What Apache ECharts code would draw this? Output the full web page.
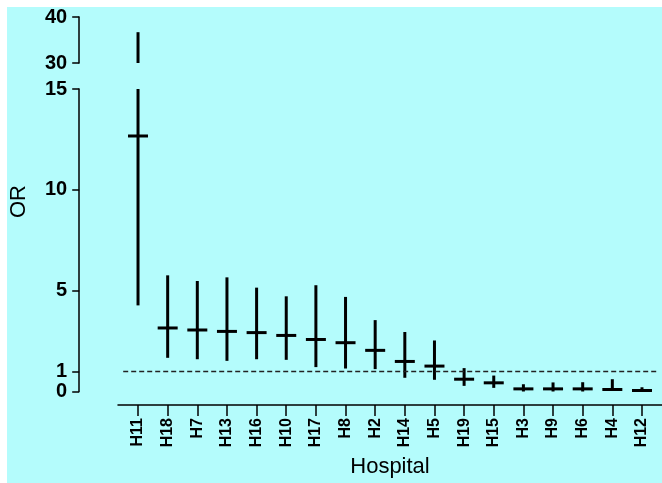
<!DOCTYPE html>
<html>
<head>
<meta charset="utf-8">
<script src="https://cdn.jsdelivr.net/npm/echarts@6/dist/echarts.min.js"></script>
<style>
html,body{margin:0;padding:0;background:#ffffff;}
#c{position:absolute;left:7px;top:7px;width:655px;height:476px;}
</style>
</head>
<body>
<div id="c"></div>
<script>
// ---- data ----
const categories = ['H11','H18','H7','H13','H16','H10','H17','H8','H2','H14','H5','H19','H15','H3','H9','H6','H4','H12'];
const orEst  = [12.67, 3.15, 3.05, 2.98, 2.92, 2.78, 2.58, 2.42, 2.04, 1.49, 1.26, 0.61, 0.43, 0.13, 0.13, 0.13, 0.10, 0.05];
const ciLow  = [4.27, 1.67, 1.60, 1.52, 1.60, 1.57, 1.21, 1.14, 1.11, 0.68, 0.58, 0.28, 0.18, 0.00, 0.00, 0.00, 0.05, 0.00];
const ciHigh = [36.7, 5.76, 5.48, 5.66, 5.15, 4.72, 5.27, 4.69, 3.54, 2.95, 2.53, 1.16, 0.79, 0.36, 0.45, 0.46, 0.61, 0.21];
const lowerTicks = [0, 1, 5, 10, 15];
const upperTicks = [30, 40];
const refLine = 1;

const rows = categories.map((c, i) => [i, orEst[i], ciLow[i], ciHigh[i]]);

function makeRender(lo, hi) {
  return function (params, api) {
    const x = api.value(0), est = api.value(1), l = api.value(2), h = api.value(3);
    const a = Math.max(l, lo), b = Math.min(h, hi);
    const children = [];
    if (b > a) {
      const p1 = api.coord([x, a]), p2 = api.coord([x, b]);
      children.push({type: 'line', shape: {x1: p1[0], y1: p1[1], x2: p2[0], y2: p2[1]},
        style: {stroke: '#000', lineWidth: 3}});
    }
    if (est >= lo && est <= hi) {
      const c = api.coord([x, est]);
      children.push({type: 'line', shape: {x1: c[0] - 10, y1: c[1], x2: c[0] + 10, y2: c[1]},
        style: {stroke: '#000', lineWidth: 3}});
    }
    return {type: 'group', children};
  };
}

const FONT = '"Liberation Sans", Arial, sans-serif';
const axisLineStyle = {color: '#000', width: 1.5};

const chart = echarts.init(document.getElementById('c'), null, {renderer: 'canvas'});
chart.setOption({
  backgroundColor: '#b4fcfc',
  animation: false,
  grid: [
    {left: 116.2, width: 533.6, top: 82, height: 302.5},   // lower panel 0-15
    {left: 116.2, width: 533.6, top: 8, height: 48},       // upper panel 30-40
    {left: 116.2, width: 533.6, top: 390, height: 8},      // category axis (ticks/labels)
    {left: 111, right: 0, top: 390, height: 8}             // x axis line
  ],
  xAxis: [
    {type: 'category', gridIndex: 0, data: categories, boundaryGap: true, show: false},
    {type: 'category', gridIndex: 1, data: categories, boundaryGap: true, show: false},
    {
      type: 'category', gridIndex: 2, data: categories, boundaryGap: true,
      axisLine: {show: false},
      axisTick: {show: true, alignWithLabel: true, length: 11, lineStyle: axisLineStyle},
      axisLabel: {rotate: 90, margin: 13, color: '#000', fontWeight: 'bold', fontSize: 16,
        fontFamily: '"Liberation Sans Narrow", "Arial Narrow", ' + FONT},
      name: 'Hospital', nameLocation: 'middle', nameGap: 51,
      nameTextStyle: {color: '#000', fontSize: 22, fontFamily: FONT}
    },
    {
      type: 'value', gridIndex: 3, min: 0, max: 1,
      axisLine: {show: true, lineStyle: axisLineStyle},
      axisTick: {show: false}, axisLabel: {show: false}, splitLine: {show: false}
    }
  ],
  yAxis: [
    {
      type: 'value', gridIndex: 0, min: 0, max: 15, offset: 44,
      splitLine: {show: false},
      axisLine: {show: true, lineStyle: axisLineStyle},
      axisTick: {show: true, length: 7, lineStyle: axisLineStyle, customValues: lowerTicks},
      axisLabel: {color: '#000', fontWeight: 'bold', fontSize: 20, margin: 12, fontFamily: FONT,
        customValues: lowerTicks}
    },
    {
      type: 'value', gridIndex: 1, min: 30, max: 40, interval: 10, offset: 44,
      splitLine: {show: false},
      axisLine: {show: true, lineStyle: axisLineStyle},
      axisTick: {show: true, length: 7, lineStyle: axisLineStyle, customValues: upperTicks},
      axisLabel: {color: '#000', fontWeight: 'bold', fontSize: 20, margin: 12, fontFamily: FONT,
        customValues: upperTicks}
    },
    {type: 'value', gridIndex: 2, show: false},
    {type: 'value', gridIndex: 3, show: false}
  ],
  graphic: [
    {type: 'text', left: 1, top: 178, rotation: Math.PI / 2,
      style: {text: 'OR', fontSize: 22, fontFamily: FONT, fill: '#000'}}
  ],
  series: [
    {
      type: 'custom', xAxisIndex: 0, yAxisIndex: 0, data: rows,
      renderItem: makeRender(0, 15), clip: false,
      encode: {x: 0, y: [1, 2, 3]},
      markLine: {
        silent: true, symbol: ['none', 'none'], label: {show: false},
        lineStyle: {color: '#222', type: [5, 3], width: 1.3},
        data: [{yAxis: refLine}]
      }
    },
    {
      type: 'custom', xAxisIndex: 1, yAxisIndex: 1, data: rows,
      renderItem: makeRender(30, 40), clip: false,
      encode: {x: 0, y: [1, 2, 3]}
    }
  ]
});
</script>
</body>
</html>
